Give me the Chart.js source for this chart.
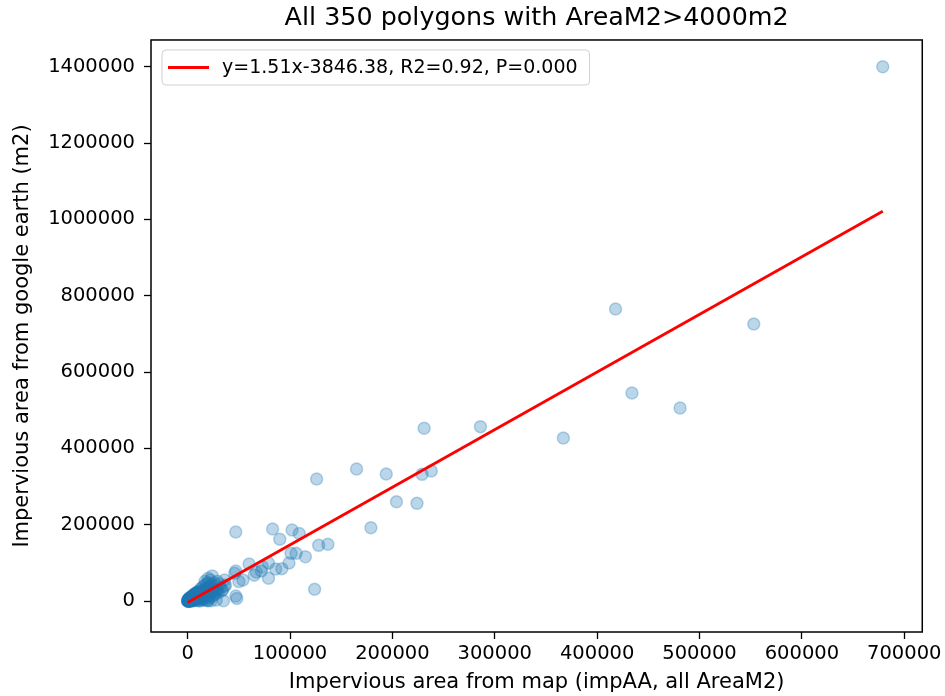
<!DOCTYPE html>
<html>
<head>
<meta charset="utf-8">
<script src="https://cdn.jsdelivr.net/npm/chart.js@4.4.1/dist/chart.umd.min.js"></script>
<style>
  html, body { margin:0; padding:0; background:#fff; }
  canvas { display:block; }
</style>
</head>
<body>
<canvas id="chart" width="945" height="696"></canvas>
<script>
// values (m2): [map area, google earth area]
const largePolys = [
  [679000,1400000],[418000,765000],[553000,726000],[434000,545000],[481000,506000],
  [367000,427000],[286000,457000],[231000,453000],[165000,346000],[194000,333000],
  [126000,320000],[238000,341000],[229000,332000],[204000,260000],[224000,256000],
  [179000,192000]
];

const mediumPolys = [
  [47000,181000],[83000,189000],[102000,186000],[109000,177000],[90000,162000],
  [128000,146000],[137000,149000],[101000,125000],[106000,125000],[115000,116000],
  [99000,100000],[92000,85000],[124000,31000],[79000,100000],[60000,97000],
  [73000,90000],[86000,84000],[72000,79000],[67000,76000],[65000,68000],
  [79000,60000],[47000,79000],[54000,55000],[50000,51000],[46000,73000],
  [36000,55000],[22000,55000],[36000,38000],[37000,42000],[34000,29000],
  [48000,7000],[47000,13000],[35000,1000],[20000,1000],[29000,29000],[28000,3000]
];

const smallPolys = [
  [500,800],[1000,1500],[1200,400],[1500,2200],[1800,1000],[2000,3100],[2200,0],[2500,2800],
  [2800,4000],[3000,1600],[3200,5200],[3500,3300],[3800,500],[4000,6100],[4200,4400],[4500,2000],
  [4800,7300],[5000,5500],[5300,3000],[5600,8600],[5900,6400],[6200,1200],[6500,9800],[6800,7600],
  [7000,4100],[7300,11000],[7600,8800],[8000,2500],[8300,12600],[8700,10000],[9000,5900],[9400,14100],
  [9800,11500],[10200,3400],[300,2500],[700,4800],[1300,6000],[1900,7700],[2400,9500],[3300,10800],
  [4100,12500],[4900,14800],[5800,16200],[6600,18500],[7500,20100],[200,200],[900,600],[1600,1800],
  [2700,900],[3700,2600],[4400,1100],[5400,4200],[6000,2900],[6900,5300],[7800,6700],[8500,8100],
  [9200,7000],[10000,9200],[600,3500],[1100,5200],[2100,6800],[2900,7100],[3900,8900],[4600,9600],
  [5100,11900],[6300,13400],[7100,15600],[8100,17000],[9600,19300],
  [10800,16000],[11500,13200],[12000,20500],[12600,8000],[13200,18700],[13800,24300],[14500,15000],
  [15000,28000],[15800,21500],[16500,11000],[17000,30500],[17800,26000],[18500,19500],[19000,35000],
  [19800,29000],[20500,14500],[21000,38000],[22000,31500],[22800,24000],[23500,44000],[24500,36000],
  [25000,20000],[26000,48000],[27000,40000],[28000,30000],[29000,52000],[11000,26000],[12400,31000],
  [14000,35500],[16000,40000],[18000,44500],[20000,48000],[13000,4000],[15500,6500],[17500,2000],
  [21500,8000],[24000,12000],[26500,17000],[30000,22000],[32000,35000],[31000,45000],[33500,27000],
  [9000,22500],[10500,1000],[12200,500],[14800,3000],[19500,1500],[23000,800],[17000,52000],
  [20000,60000],[24000,66000],[11800,9500],[13600,12000],[15200,17500],[16800,23000],[18800,12500],
  [21800,18000],[25500,28000],[27500,23000],
  [400,1200],[800,2000],[1400,2900],[2300,3600],[3100,4300],[3600,6900],[4300,7800],[5200,9000],
  [5700,10400],[6400,12000],[7200,13000],[8200,14500],[8900,16500],[9900,13500],[100,100],[600,0],
  [1700,300],[2600,1900],[3400,1200],[4700,3600],[5500,6000],[6700,9200],[7400,10200],[8800,12000],
  [0,0],[300,600],[1000,1000],[1500,3800],[2100,5000],[2900,6200],[3500,8200],[4000,9500],
  [4900,11000],[5500,13000],[6100,14500],[7000,17000],[7700,18000],[8400,20500],[9300,23000],[10400,24000]
];

const fitSlope = 1.51;
const fitIntercept = -3846.38;
const fitLabel = 'y=1.51x-3846.38, R2=0.92, P=0.000';

const xTicks = [0,100000,200000,300000,400000,500000,600000,700000];
const yTicks = [0,200000,400000,600000,800000,1000000,1200000,1400000];

const allPolys = largePolys.concat(mediumPolys, smallPolys);
const scatterData = allPolys.map(p => ({x:p[0], y:p[1]}));
const xs = allPolys.map(p => p[0]);
const xLo = Math.min(...xs), xHi = Math.max(...xs);
const fitData = [xLo, xHi].map(x => ({x, y: fitSlope*x + fitIntercept}));

Chart.defaults.font.family = "'DejaVu Sans', sans-serif";
Chart.defaults.color = '#000';

const frame = {
  id:'frame',
  afterDatasetsDraw(chart){
    const {ctx, chartArea:a} = chart;
    ctx.save();
    ctx.strokeStyle = '#000';
    ctx.lineWidth = 1.5;
    ctx.strokeRect(a.left, a.top, a.right - a.left, a.bottom - a.top);
    ctx.restore();
  }
};

const legendBox = {
  id:'legendBox',
  afterDraw(chart){
    const {ctx, chartArea:a} = chart;
    const ds = chart.data.datasets[0];
    ctx.save();
    ctx.font = "19px 'DejaVu Sans'";
    const tw = ctx.measureText(ds.label).width;
    const x = a.left + 11, y = a.top + 10, h = 35, w = 60 + tw + 12;
    ctx.beginPath();
    ctx.roundRect(x, y, w, h, 4);
    ctx.fillStyle = 'rgba(255,255,255,0.8)';
    ctx.fill();
    ctx.strokeStyle = '#d0d0d0';
    ctx.lineWidth = 1;
    ctx.stroke();
    ctx.beginPath();
    ctx.moveTo(x + 6, y + h/2);
    ctx.lineTo(x + 47, y + h/2);
    ctx.strokeStyle = ds.borderColor;
    ctx.lineWidth = 2.8;
    ctx.stroke();
    ctx.fillStyle = '#000';
    ctx.textBaseline = 'middle';
    ctx.fillText(ds.label, x + 60, y + h/2 + 1);
    ctx.restore();
  }
};

new Chart(document.getElementById('chart'), {
  type:'scatter',
  data:{
    datasets:[
      {
        type:'line',
        label:fitLabel,
        data:fitData,
        borderColor:'#ff0000',
        borderWidth:2.8,
        pointRadius:0,
        fill:false,
        tension:0
      },
      {
        label:'polygons',
        data:scatterData,
        backgroundColor:'rgba(31,119,180,0.3)',
        borderColor:'rgba(31,119,180,0.3)',
        borderWidth:1.5,
        pointRadius:6,
        pointHoverRadius:6
      }
    ]
  },
  options:{
    responsive:false,
    animation:false,
    devicePixelRatio:1,
    layout:{padding:{left:0, right:22, top:0, bottom:0}},
    plugins:{
      legend:{display:false},
      tooltip:{enabled:false},
      title:{
        display:true,
        fullSize:false,
        text:'All 350 polygons with AreaM2>4000m2',
        color:'#000',
        font:{size:25.4, weight:'normal'},
        padding:{top:3, bottom:6.5}
      }
    },
    scales:{
      x:{
        type:'linear',
        min:-35800,
        max:717600,
        afterFit(scale){ scale.height = 64; },
        afterBuildTicks(scale){ scale.ticks = xTicks.map(v => ({value:v})); },
        border:{display:false},
        grid:{drawOnChartArea:false, drawTicks:true, tickLength:7, tickWidth:1.3, tickColor:'#000'},
        ticks:{font:{size:19.5}, color:'#000', padding:3, maxRotation:0, autoSkip:false, callback:v => String(v)},
        title:{display:true, text:'Impervious area from map (impAA, all AreaM2)', color:'#000', font:{size:21}, padding:{top:0, bottom:1}}
      },
      y:{
        type:'linear',
        min:-81000,
        max:1470000,
        afterFit(scale){ scale.width = 151; },
        afterBuildTicks(scale){ scale.ticks = yTicks.map(v => ({value:v})); },
        border:{display:false},
        grid:{drawOnChartArea:false, drawTicks:true, tickLength:7, tickWidth:1.3, tickColor:'#000'},
        ticks:{font:{size:19.5}, color:'#000', padding:9, autoSkip:false, callback:v => String(v)},
        title:{display:true, text:'Impervious area from google earth (m2)', color:'#000', font:{size:21}, padding:{top:10, bottom:0}}
      }
    }
  },
  plugins:[frame, legendBox]
});
</script>
</body>
</html>
